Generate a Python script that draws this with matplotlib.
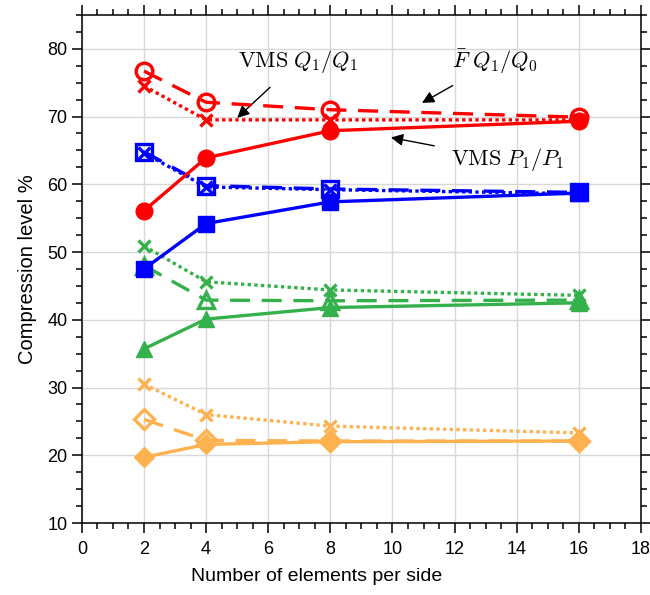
import matplotlib
matplotlib.use("Agg")
import matplotlib.pyplot as plt
from matplotlib.ticker import MultipleLocator

plt.rcParams["font.family"] = ["Liberation Sans", "DejaVu Sans"]
plt.rcParams["mathtext.fontset"] = "cm"

# elements per side
n_elem = [2, 4, 8, 16]

# compression levels (%)
red_solid = [56.1, 63.9, 67.9, 69.3]
red_dashed = [76.7, 72.1, 71.0, 69.9]
red_dotted = [74.5, 69.5, 69.5, 69.5]

blue_solid = [47.5, 54.2, 57.4, 58.7]
blue_dashed = [64.8, 59.8, 59.3, 58.8]
blue_dotted = [64.6, 59.6, 59.2, 58.6]

green_solid = [35.7, 40.1, 41.8, 42.5]
green_dashed = [48.0, 42.9, 42.8, 42.9]
green_dotted = [50.9, 45.6, 44.4, 43.6]

orange_solid = [19.7, 21.6, 22.0, 22.1]
orange_dashed = [25.3, 22.2, 22.1, 22.1]
orange_dotted = [30.5, 26.0, 24.3, 23.3]

RED, BLUE, GREEN, ORANGE = "#ff0000", "#0000ff", "#35b14b", "#fdb24f"

fig = plt.figure(figsize=(6.5, 5.95), dpi=100)
ax = fig.add_axes([0.126, 0.121, 0.86, 0.854])

lw = 2.4
dash = (0, (6, 3.5))
dot = (0, (1, 1))

groups = [
    (RED, "o", red_solid, red_dashed, red_dotted),
    (BLUE, "s", blue_solid, blue_dashed, blue_dotted),
    (GREEN, "^", green_solid, green_dashed, green_dotted),
    (ORANGE, "D", orange_solid, orange_dashed, orange_dotted),
]

ms = {"o": 12, "s": 11, "^": 12, "D": 10}

# dotted (x markers) and dashed (open markers) first, solid on top
for c, m, solid, dashed, dotted in groups:
    ax.plot(n_elem, dotted, color=c, lw=lw, linestyle=dot, marker="x",
            ms=9, mew=2.4, zorder=3)
    ax.plot(n_elem, dashed, color=c, lw=lw, linestyle=dash, marker=m,
            ms=ms[m], mfc="none", mew=2.4, zorder=4)
for c, m, solid, dashed, dotted in groups:
    ax.plot(n_elem, solid, color=c, lw=lw, linestyle="-", marker=m,
            ms=ms[m], mec=c, mfc=c, zorder=5)

# annotations
arrow = dict(arrowstyle="-|>", color="black", lw=1, mutation_scale=18,
             shrinkA=10, shrinkB=0)
ax.annotate(r"$\mathrm{VMS}\ Q_1/Q_1$", xy=(5.0, 69.8), xytext=(6.95, 78.1),
            ha="center", va="center", fontsize=16, arrowprops=arrow)
ax.annotate(r"$\bar{F}\ Q_1/Q_0$", xy=(10.95, 72.0), xytext=(13.3, 78.1),
            ha="center", va="center", fontsize=16, arrowprops=arrow)
ax.annotate(r"$\mathrm{VMS}\ P_1/P_1$", xy=(9.95, 66.9), xytext=(13.7, 63.6),
            ha="center", va="center", fontsize=16, arrowprops=arrow)

ax.set_xlim(0, 18)
ax.set_ylim(10, 85)
ax.xaxis.set_major_locator(MultipleLocator(2))
ax.xaxis.set_minor_locator(MultipleLocator(0.5))
ax.yaxis.set_minor_locator(MultipleLocator(2.5))
ax.set_yticks(range(10, 81, 10))

ax.tick_params(which="both", direction="out", top=True, right=True,
               labelsize=13, width=1.1)
ax.tick_params(which="major", length=7)
ax.tick_params(which="minor", length=4)
ax.tick_params(axis="x", which="major", pad=6)
for s in ax.spines.values():
    s.set_linewidth(1.1)

ax.grid(True, which="major", color="#d8d8d8", lw=1)
ax.set_axisbelow(True)

ax.set_xlabel("Number of elements per side", fontsize=14)
ax.set_ylabel("Compression level %", fontsize=14.5, labelpad=7)
ax.xaxis.set_label_coords(0.42, -0.088)

fig.savefig("out.png", dpi=100)
